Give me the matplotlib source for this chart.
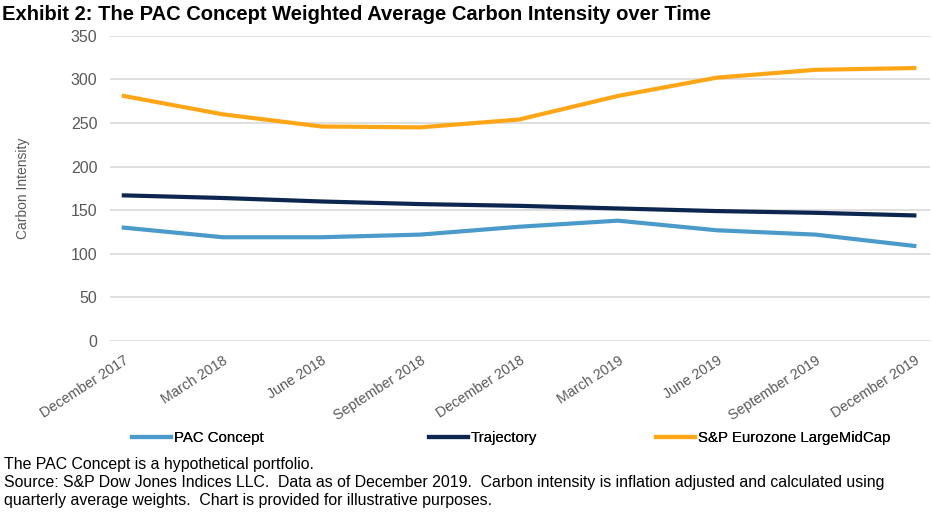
import matplotlib

matplotlib.use("Agg")
import matplotlib.pyplot as plt

quarters = ["December 2017", "March 2018", "June 2018", "September 2018",
            "December 2018", "March 2019", "June 2019", "September 2019",
            "December 2019"]
pac_concept = [130, 119, 119, 122, 131, 138, 127, 122, 109]
trajectory = [167, 164, 160, 157, 155, 152, 149, 147, 144]
eurozone = [281, 260, 246, 245, 254, 281, 302, 311, 313]
y_ticks = [0, 50, 100, 150, 200, 250, 300, 350]

FONT = ["Liberation Sans", "DejaVu Sans"]
GREY = "#595959"

fig = plt.figure(figsize=(9.32, 5.19), dpi=100)
ax = fig.add_axes([0.118, 0.343, 0.880, 0.588])

x = list(range(len(quarters)))
lines = [
    ax.plot(x, pac_concept, color="#4A9BC9", lw=3, label="PAC Concept")[0],
    ax.plot(x, trajectory, color="#0C2650", lw=3, label="Trajectory")[0],
    ax.plot(x, eurozone, color="#FFA616", lw=3,
            label="S&P Eurozone LargeMidCap")[0],
]

ax.set_xlim(-0.14, 8.16)
ax.set_ylim(0, 350)
ax.set_yticks(y_ticks)
ax.set_xticks(x)
ax.set_xticklabels(quarters, rotation=33, ha="right", rotation_mode="anchor",
                   family=FONT, fontsize=10.3, color=GREY)
for lab in ax.get_yticklabels():
    lab.set_family(FONT)
    lab.set_fontsize(11.5)
    lab.set_color(GREY)
ax.tick_params(length=0)
ax.tick_params(axis="y", pad=9)
ax.tick_params(axis="x", pad=9)
ax.grid(axis="y", color="#D9D9D9", lw=1.2)
ax.set_axisbelow(True)
for s in ax.spines.values():
    s.set_visible(False)
ax.set_ylabel("Carbon Intensity", family=FONT, fontsize=10, color=GREY)
ax.yaxis.set_label_coords(-0.097, 0.5)

# legend entries sit at fixed spots along the bottom, as in the source
legend_x = [0.142, 0.460, 0.704]
for ln, lx in zip(lines, legend_x):
    leg = fig.legend([ln], [ln.get_label()], loc="center left",
                     bbox_to_anchor=(lx, 0.156), frameon=False,
                     handlelength=2.6, handletextpad=0.2, borderpad=0,
                     borderaxespad=0, prop={"family": FONT, "size": 10.8})
    fig.add_artist(leg)

fig.text(0.002, 0.99,
         "Exhibit 2: The PAC Concept Weighted Average Carbon Intensity over Time",
         family=FONT, weight="bold", fontsize=14.5, va="top", ha="left")

notes = ["The PAC Concept is a hypothetical portfolio.",
         "Source: S&P Dow Jones Indices LLC.  Data as of December 2019.  "
         "Carbon intensity is inflation adjusted and calculated using",
         "quarterly average weights.  Chart is provided for illustrative purposes."]
for i, line in enumerate(notes):
    fig.text(0.004, 1 - (465 + 18 * i) / 519, line, family=FONT,
             fontsize=11.4, va="center", ha="left")

fig.savefig("out.png", dpi=100)
